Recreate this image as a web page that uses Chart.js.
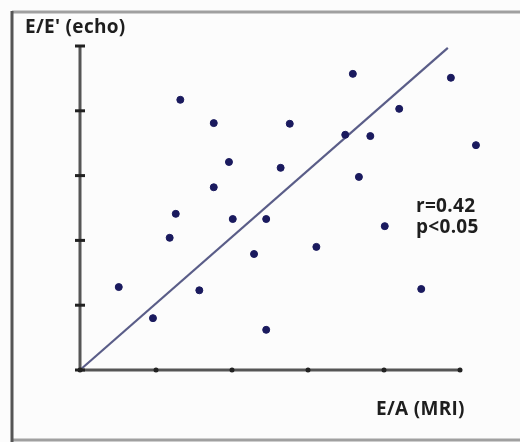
<!DOCTYPE html>
<html>
<head>
<meta charset="utf-8">
<script src="https://cdn.jsdelivr.net/npm/chart.js@4.4.1/dist/chart.umd.min.js"></script>
<style>
  html, body { margin: 0; padding: 0; background: #fff; }
  #wrap { width: 520px; height: 442px; position: relative; }
</style>
</head>
<body>
<div id="wrap"><canvas id="scatterChart" width="520" height="442"></canvas></div>
<script>
// E/A (MRI) vs E/E' (echo) (axis units 0..5)
const eaMri = [0.51, 0.96, 1.32, 1.18, 1.26, 1.57, 1.76, 1.76, 1.96, 2.01, 2.29, 2.45, 2.45,
               2.64, 2.76, 3.11, 3.49, 3.59, 3.82, 3.67, 4.01, 4.20, 4.49, 4.88, 5.21];
const eeEcho = [1.28, 0.80, 4.17, 2.04, 2.41, 1.23, 3.81, 2.82, 3.21, 2.33, 1.79, 2.33, 0.62,
                3.12, 3.80, 1.90, 3.63, 4.57, 3.61, 2.98, 2.22, 4.03, 1.25, 4.51, 3.47];
const fitX = [0, 4.84];
const fitY = [0, 4.97];
const tickValues = [0, 1, 2, 3, 4, 5];
const yTitle = "E/E' (echo)";
const xTitle = 'E/A (MRI)';
const stats = ['r=0.42', 'p<0.05'];

const points = eaMri.map((x, i) => ({ x: x, y: eeEcho[i] }));
const fitLine = fitX.map((x, i) => ({ x: x, y: fitY[i] }));

const overlay = {
    id: 'overlay',
    beforeDraw(chart) {
        const c = chart.ctx;
        c.save();
        c.fillStyle = '#fcfcfc';
        c.fillRect(0, 0, chart.width, chart.height);
        // outer frame
        c.strokeStyle = '#a0a0a0';
        c.lineWidth = 3;
        c.beginPath();
        c.moveTo(12, 12); c.lineTo(520, 12);
        c.moveTo(12, 440); c.lineTo(520, 440);
        c.stroke();
        c.strokeStyle = '#555';
        c.beginPath();
        c.moveTo(12, 11); c.lineTo(12, 442);
        c.stroke();
        c.restore();
    },
    afterDatasetsDraw(chart) {
        // axes drawn by hand: x line stops at the last tick, y ticks cross the line
        const c = chart.ctx;
        const xs = chart.scales.x, ys = chart.scales.y;
        const x0 = xs.getPixelForValue(0);
        const y0 = ys.getPixelForValue(0);
        const yTop = ys.getPixelForValue(tickValues[tickValues.length - 1]);
        c.save();
        c.strokeStyle = '#555';
        c.lineWidth = 3;
        c.beginPath();
        c.moveTo(x0, yTop);
        c.lineTo(x0, y0);
        c.lineTo(xs.getPixelForValue(tickValues[tickValues.length - 1]), y0);
        c.stroke();
        c.fillStyle = '#222';
        tickValues.forEach(v => {
            c.beginPath();
            c.arc(xs.getPixelForValue(v), y0, 2.5, 0, Math.PI * 2);
            c.fill();
            c.fillRect(x0 - 5, ys.getPixelForValue(v) - 1.5, 10, 3);
        });
        c.restore();
    },
    afterDraw(chart) {
        const c = chart.ctx;
        c.save();
        c.fillStyle = '#1e1e1e';
        c.font = 'bold 19px "Open Sans", sans-serif';
        c.textBaseline = 'alphabetic';
        c.letterSpacing = '0.3px';
        c.fillText(yTitle, 25, 33);
        c.fillText(stats[0], 416, 212);
        c.fillText(stats[1], 416, 233);
        c.fillText(xTitle, 376, 415);
        c.restore();
    }
};

document.addEventListener('DOMContentLoaded', function () {
    const ctx = document.getElementById('scatterChart').getContext('2d');
    new Chart(ctx, {
        type: 'scatter',
        data: {
            datasets: [{
                data: points,
                backgroundColor: '#1a1a5e',
                borderColor: '#1a1a5e',
                pointRadius: 3.5,
                pointStyle: 'circle',
                clip: false,
                order: 1
            }, {
                data: fitLine,
                showLine: true,
                borderColor: '#5a5d88',
                borderWidth: 2.2,
                pointRadius: 0,
                clip: false,
                order: 2
            }]
        },
        options: {
            responsive: false,
            animation: false,
            events: [],
            layout: {
                padding: { left: 0, right: 37.2, top: 46, bottom: 0 }
            },
            plugins: {
                legend: { display: false },
                tooltip: { enabled: false }
            },
            scales: {
                x: {
                    type: 'linear',
                    min: 0,
                    max: 5.3,
                    afterBuildTicks: s => { s.ticks = tickValues.map(v => ({ value: v })); },
                    afterFit: s => { s.height = 72; },
                    ticks: { display: false },
                    grid: { display: false },
                    border: { display: false }
                },
                y: {
                    type: 'linear',
                    min: 0,
                    max: 5,
                    afterBuildTicks: s => { s.ticks = tickValues.map(v => ({ value: v })); },
                    afterFit: s => { s.width = 80; },
                    ticks: { display: false },
                    grid: { display: false },
                    border: { display: false }
                }
            }
        },
        plugins: [overlay]
    });
});
</script>
</body>
</html>
